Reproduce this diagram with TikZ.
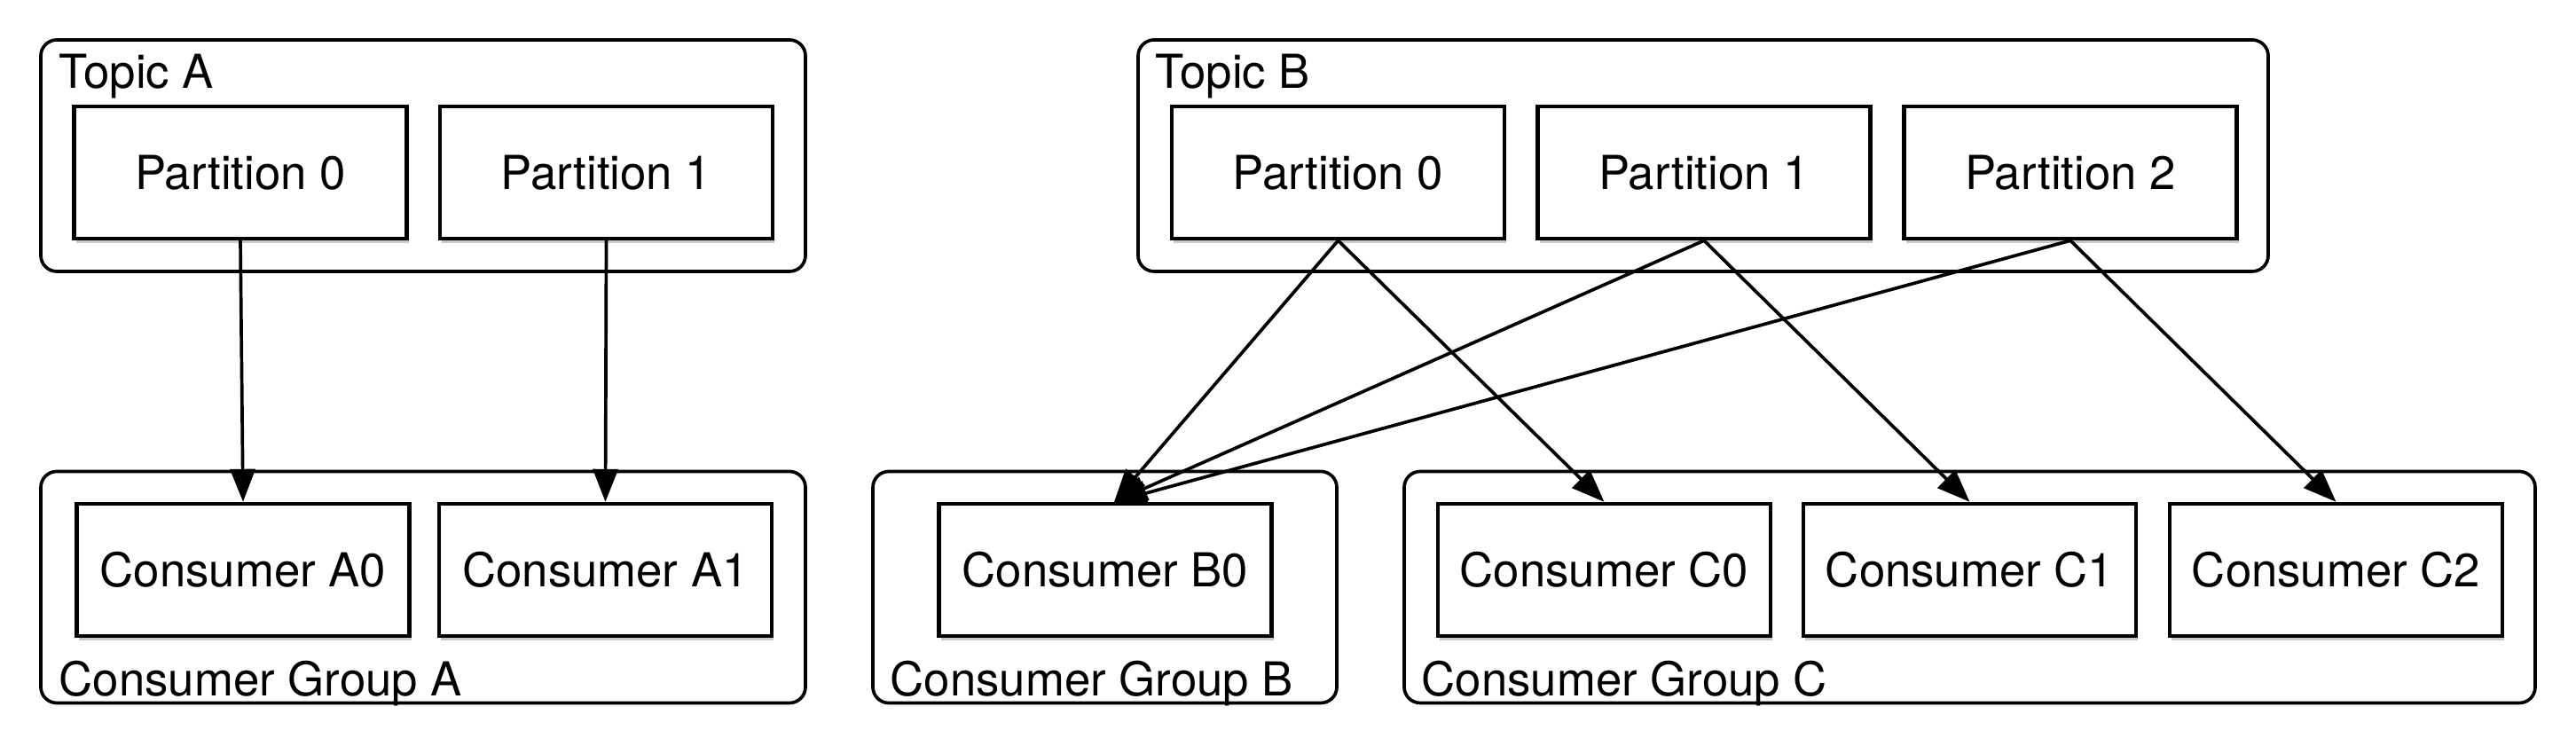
\documentclass[tikz,border=0pt]{standalone}
\usepackage{fontspec}
\setmainfont{TeX Gyre Heros}
\usepackage{tikz}
\usetikzlibrary{arrows.meta, shadows, positioning}

\tikzset{
  groupbox/.style={draw, line width=1.05pt, rounded corners=0.18cm, minimum height=2.61cm},
  partbox/.style={draw, line width=1.25pt, fill=white, minimum width=3.75cm, minimum height=1.49cm,
    font=\fontsize{15pt}{18pt}\selectfont,
    drop shadow={shadow xshift=0.02cm, shadow yshift=-0.05cm, fill=black, opacity=0.22}},
  grouplabel/.style={anchor=base west, inner sep=0pt, font=\fontsize{15pt}{18pt}\selectfont},
  arr/.style={line width=1.05pt, -{Triangle[length=0.37cm,width=0.28cm]}}
}

\begin{document}
\begin{tikzpicture}

\useasboundingbox (0,0) rectangle (29.04,8.41);

% Topico A
\node[groupbox, minimum width=8.62cm] (topicA) at (4.77,6.655) {};
\node[grouplabel] (topicAlbl) at ([shift={(0.22,-0.56)}]topicA.north west) {Topic A};
\node[partbox] (pA0) at (2.71,6.465) {Partition 0};
\node[partbox] (pA1) at (6.835,6.465) {Partition 1};

% Grupo de consumidores A
\node[groupbox, minimum width=8.62cm] (groupA) at (4.77,1.79) {};
\node[grouplabel] (groupAlbl) at ([shift={(0.22,0.10)}]groupA.south west) {Consumer Group A};
\node[partbox] (cA0) at (2.74,1.985) {Consumer A0};
\node[partbox] (cA1) at (6.825,1.985) {Consumer A1};

% Topico B
\node[groupbox, minimum width=12.74cm] (topicB) at (19.20,6.655) {};
\node[grouplabel] (topicBlbl) at ([shift={(0.21,-0.56)}]topicB.north west) {Topic B};
\node[partbox] (pB0) at (15.085,6.465) {Partition 0};
\node[partbox] (pB1) at (19.21,6.465) {Partition 1};
\node[partbox] (pB2) at (23.34,6.465) {Partition 2};

% Grupo de consumidores B
\node[groupbox, minimum width=5.23cm] (groupB) at (12.455,1.79) {};
\node[grouplabel] (groupBlbl) at ([shift={(0.21,0.10)}]groupB.south west) {Consumer Group B};
\node[partbox] (cB0) at (12.46,1.985) {Consumer B0};
\coordinate (inB0) at ([xshift=0.1cm]cB0.north);

% Grupo de consumidores C
\node[groupbox, minimum width=12.75cm] (groupC) at (22.205,1.79) {};
\node[grouplabel] (groupClbl) at ([shift={(0.21,0.10)}]groupC.south west) {Consumer Group C};
\node[partbox] (cC0) at (18.085,1.985) {Consumer C0};
\node[partbox] (cC1) at (22.205,1.985) {Consumer C1};
\node[partbox] (cC2) at (26.335,1.985) {Consumer C2};

% Setas A
\draw[arr] (pA0.south) -- (cA0.north);
\draw[arr] (pA1.south) -- (cA1.north);

% Setas B e C
\draw[arr] (pB0.south) -- (inB0);
\draw[arr] (pB1.south) -- (inB0);
\draw[arr] (pB2.south) -- (inB0);
\draw[arr] (pB0.south) -- (cC0.north);
\draw[arr] (pB1.south) -- (cC1.north);
\draw[arr] (pB2.south) -- (cC2.north);

\end{tikzpicture}
\end{document}
